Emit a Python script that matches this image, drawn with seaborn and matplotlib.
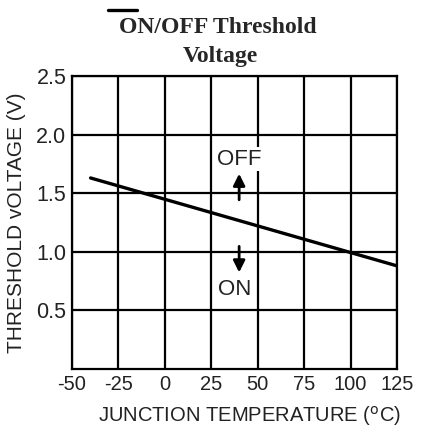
import matplotlib
matplotlib.use("Agg")
import matplotlib.pyplot as plt
import seaborn as sns
import pandas as pd

# data
temperature_c = [-40, 125]
threshold_v = [1.63, 0.88]
x_ticks = [-50, -25, 0, 25, 50, 75, 100, 125]
y_ticks = [0.5, 1.0, 1.5, 2.0, 2.5]
off_label = ("OFF", 40, 1.79)
on_label = ("ON", 37.5, 0.68)
off_arrow = (40, 1.42, 1.69)
on_arrow = (40, 1.07, 0.80)

sns.set_style("white")
plt.rcParams["font.family"] = ["Liberation Sans", "DejaVu Sans"]

df = pd.DataFrame({"temp": temperature_c, "volt": threshold_v})

fig = plt.figure(figsize=(4.25, 4.33), dpi=100)
ax = fig.add_axes([0.1694, 0.1478, 0.7647, 0.6767])

sns.lineplot(data=df, x="temp", y="volt", color="black", linewidth=2.4, ax=ax, zorder=3)

ax.set_xlim(-50, 125)
ax.set_ylim(0, 2.5)
ax.set_xticks(x_ticks)
ax.set_xticklabels([str(t) for t in x_ticks])
ax.set_yticks(y_ticks)
ax.set_yticklabels(["%.1f" % t for t in y_ticks])
ax.grid(True, color="black", linewidth=1.6)
ax.set_axisbelow(True)
for s in ax.spines.values():
    s.set_visible(True)
    s.set_color("black")
    s.set_linewidth(1.6)
ax.tick_params(axis="both", length=0, colors="#222222")
ax.tick_params(axis="x", labelsize=14.5, pad=4)
ax.tick_params(axis="y", labelsize=15.5, pad=4)

ax.set_xlabel(r"JUNCTION TEMPERATURE ($^{\rm o}$C)", fontsize=14.5, color="#222222")
ax.set_ylabel("THRESHOLD vOLTAGE (V)", fontsize=15, color="#222222")
ax.xaxis.set_label_coords(0.545, -0.12)
ax.yaxis.set_label_coords(-0.14, 0.5)

# OFF / ON markers with arrows
ax.text(off_label[1], off_label[2], off_label[0], ha="center", va="center", fontsize=16,
        color="#222222", zorder=4, bbox=dict(facecolor="white", edgecolor="none", pad=1.0))
ax.text(on_label[1], on_label[2], on_label[0], ha="center", va="center", fontsize=16,
        color="#222222", zorder=4)
arrow_style = dict(arrowstyle="-|>,head_length=0.7,head_width=0.35", color="black", lw=2)
ax.annotate("", xy=(off_arrow[0], off_arrow[2]), xytext=(off_arrow[0], off_arrow[1]),
            arrowprops=arrow_style, zorder=4)
ax.annotate("", xy=(on_arrow[0], on_arrow[2]), xytext=(on_arrow[0], on_arrow[1]),
            arrowprops=arrow_style, zorder=4)

# two-line bold serif title, with overline over "ON"
title_font = dict(family="Liberation Serif", weight="bold", fontsize=17)
t1 = fig.text(0.513, 0.924, "ON/OFF Threshold", ha="center", va="baseline", **title_font)
fig.text(0.518, 0.857, "Voltage", ha="center", va="baseline", **title_font)

fig.canvas.draw()
renderer = fig.canvas.get_renderer()
bb = t1.get_window_extent(renderer)
tmp = fig.text(0, 0, "ON", **title_font)
w_on = tmp.get_window_extent(renderer).width
tmp.remove()
fw, fh = fig.bbox.width, fig.bbox.height
x0 = (bb.x0 - 11) / fw
x1 = (bb.x0 - 11 + w_on - 7) / fw
y_line = (bb.y1 + 7) / fh
fig.add_artist(plt.Line2D([x0, x1], [y_line, y_line], color="black", linewidth=2.4,
                          transform=fig.transFigure))

fig.savefig("out.png", dpi=100)
